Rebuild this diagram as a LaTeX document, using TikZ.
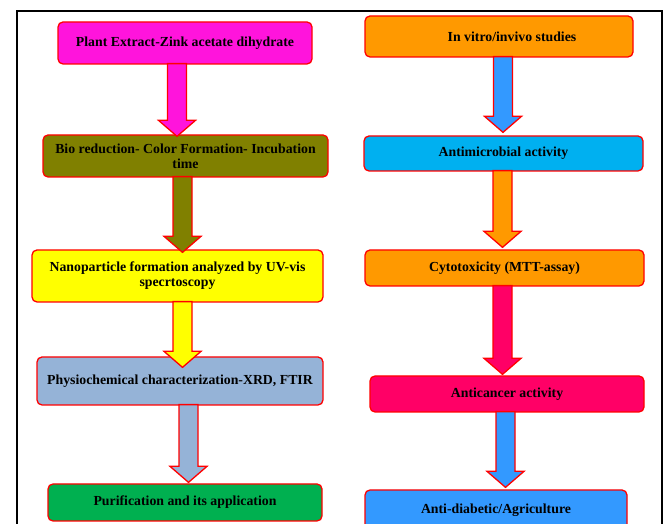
\documentclass[tikz,border=0pt]{standalone}
\usepackage{fontspec}
\setmainfont{Liberation Serif}
\usepackage{tikz}
\usetikzlibrary{calc}

\definecolor{plantpink}{HTML}{FF14DC}
\definecolor{bioolive}{HTML}{808000}
\definecolor{nanoyellow}{HTML}{FFFF00}
\definecolor{charblue}{HTML}{95B3D7}
\definecolor{purigreen}{HTML}{00B050}
\definecolor{studyorange}{HTML}{FF9900}
\definecolor{microcyan}{HTML}{00B0F0}
\definecolor{cancerred}{HTML}{FF0066}
\definecolor{diabblue}{HTML}{3399FF}

% block arrow: [tip overlap]{from}{to}{x}{fill}
\newcommand{\blockarrow}[5][2]{%
    \coordinate (ba-top) at (#4,0 |- #2.south);
    \coordinate (ba-tip) at (#4,0 |- #3.north);
    \draw[flowarrow, fill=#5] ($(ba-top)+(-9.5,1)$) -- ($(ba-top)+(9.5,1)$)
        -- ($(ba-tip)+(9.5,16-#1)$) -- ($(ba-tip)+(18.5,16-#1)$)
        -- ($(ba-tip)+(0,-#1)$) -- ($(ba-tip)+(-18.5,16-#1)$)
        -- ($(ba-tip)+(-9.5,16-#1)$) -- cycle;
}

\begin{document}
\begin{tikzpicture}[x=1pt,y=1pt,
    box/.style={rectangle, rounded corners=5pt, draw=red, line width=1.3pt,
        font=\bfseries\fontsize{13.8}{15}\selectfont, align=center,
        inner sep=0pt, text=black},
    flowarrow/.style={draw=red, line width=1.3pt, line join=miter}]
    \useasboundingbox (0,0) rectangle (664,524);

    % left column
    \node[box, fill=plantpink, minimum width=254pt, minimum height=42pt] (extract) at (185,481)
        {Plant Extract-Zink acetate dihydrate};
    \node[box, fill=bioolive, minimum width=285pt, minimum height=42pt] (bio) at (185.5,368)
        {Bio reduction- Color Formation- Incubation\\time};
    \node[box, fill=nanoyellow, minimum width=291pt, minimum height=52pt] (nano) at (177.5,248)
        {Nanoparticle formation analyzed by UV-vis\\specrtoscopy};
    \node[box, fill=charblue, minimum width=286pt, minimum height=48pt] (phys) at (180,143)
        {Physiochemical characterization-XRD, FTIR};
    \node[box, fill=purigreen, minimum width=274pt, minimum height=37pt] (puri) at (185,21.5)
        {Purification and its application};

    % right column
    \node[box, fill=studyorange, minimum width=268pt, minimum height=41pt] (study) at (499,487.5)
        {\hspace*{26pt}In vitro/invivo studies};
    \node[box, fill=microcyan, minimum width=279pt, minimum height=35pt] (micro) at (503.5,370.5)
        {Antimicrobial activity};
    \node[box, fill=studyorange, minimum width=279pt, minimum height=36pt] (cyto) at (504.5,256)
        {Cytotoxicity (MTT-assay)};
    \node[box, fill=cancerred, minimum width=274pt, minimum height=36pt] (cancer) at (507,130)
        {Anticancer activity};
    \node[box, fill=diabblue, minimum width=262pt, minimum height=40pt] (diab) at (496,14)
        {Anti-diabetic/Agriculture};

    % arrows
    \blockarrow[2]{extract}{bio}{177}{plantpink}
    \blockarrow[3]{bio}{nano}{182.5}{bioolive}
    \blockarrow[11]{nano}{phys}{182.5}{nanoyellow}
    \blockarrow[-1]{phys}{puri}{188.5}{charblue}
    \blockarrow[-3]{study}{micro}{503}{diabblue}
    \blockarrow[-2]{micro}{cyto}{502.5}{studyorange}
    \blockarrow[-1]{cyto}{cancer}{502.5}{cancerred}
    \blockarrow[-2]{cancer}{diab}{505.5}{diabblue}

    % frame
    \draw[line width=2.5pt] (17,-5) -- (17,513) -- (662,513) -- (662,-5);
\end{tikzpicture}
\end{document}
